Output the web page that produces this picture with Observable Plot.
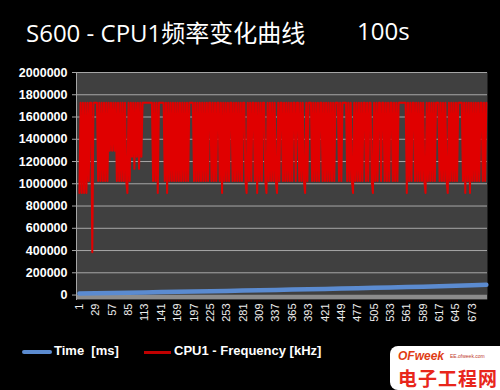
<!DOCTYPE html>
<html>
<head>
<meta charset="utf-8">
<script src="https://cdn.jsdelivr.net/npm/d3@7"></script>
<script src="https://cdn.jsdelivr.net/npm/@observablehq/plot@0.6"></script>
<style>
  html, body { margin: 0; padding: 0; background: #000; }
  #wrap { position: relative; width: 500px; height: 390px; background: #000; overflow: hidden; }
  .title { position: absolute; top: 14px; color: #fff; font-family: "Open Sans", "Noto Sans CJK SC", sans-serif; font-size: 24px; white-space: nowrap; }
  #chart { position: absolute; left: 0; top: 60px; }
  .leg { position: absolute; top: 343px; color: #fff; font-family: "Liberation Sans", Arial, sans-serif; font-weight: bold; font-size: 13px; white-space: pre; }
  .sw { position: absolute; }
  #wm { position: absolute; left: 390px; top: 346px; width: 110px; height: 44px; background: #fff; border-top-left-radius: 8px; border-bottom-left-radius: 8px; }
</style>
</head>
<body>
<div id="wrap">
  <div class="title" style="left:26px">S600 - CPU1频率变化曲线</div>
  <div class="title" style="left:357px">100s</div>
  <div id="chart"></div>
  <div class="sw" style="left:22px; top:350px; width:30px; height:4px; background:#5b8bd0; border-radius:2px"></div>
  <div class="leg" style="left:54px">Time  [ms]</div>
  <div class="sw" style="left:144px; top:351px; width:27px; height:3px; background:#c00000"></div>
  <div class="leg" style="left:174px">CPU1 - Frequency [kHz]</div>
  <div id="wm">
    <div style="position:absolute; left:8px; top:3px; color:#e03c14; font:italic bold 12px 'Liberation Sans', Arial, sans-serif;">OFweek</div>
    <div style="position:absolute; left:60px; top:7px; color:#c0392b; font:5px 'Liberation Sans', Arial, sans-serif;">EE.ofweek.com</div>
    <div style="position:absolute; left:8px; top:18px; color:#e8261c; font:bold 19px 'Noto Sans CJK SC', sans-serif; letter-spacing:1px;">电子工程网</div>
  </div>
</div>
<script>
// Category tick labels (sample numbers)
const xTickLabels = [1,29,57,85,113,141,169,197,225,253,281,309,337,365,393,421,449,477,505,533,561,589,617,645,673];
// Y axis ticks
const yTicks = [0,200000,400000,600000,800000,1000000,1200000,1400000,1600000,1800000,2000000];

// Time [ms] series read at sample positions
const timeSamples = [1,29,57,85,113,141,169,197,225,253,281,309,337,365,393,421,449,477,505,533,561,589,617,645,673,697];
const timeMs = [14000,16000,18500,21000,24000,26500,29000,32000,34500,37000,40000,43000,46000,49000,52000,55000,58500,62000,65000,68500,72000,75500,79000,83000,87000,92000];

// CPU1 frequency [kHz], one reading every second sample starting at sample 1
const freqSampleStep = 2;
const cpu1Freq = [
918000,1728000,918000,1728000,918000,1728000,918000,1728000,1026000,1728000,
1728000,384000,1728000,1728000,1728000,1728000,1026000,1728000,1026000,1728000,
1026000,1728000,1026000,1728000,1026000,1728000,1296000,1728000,1296000,1728000,
1296000,1728000,1026000,1728000,1026000,1728000,1026000,1728000,1026000,1728000,
1026000,918000,1728000,1026000,1728000,1242000,1728000,1134000,1728000,1242000,
1728000,1134000,1728000,1242000,1728000,1728000,1728000,1728000,1728000,1728000,
1728000,1728000,1728000,1026000,1728000,1026000,1728000,918000,1728000,1728000,
1728000,1728000,1728000,1026000,1728000,918000,1728000,1026000,1728000,1026000,
1728000,1026000,1728000,1026000,1728000,1026000,1728000,1026000,1728000,1026000,
1728000,1026000,1728000,1026000,1728000,1728000,1728000,1728000,1026000,1728000,
1026000,1728000,1026000,1728000,1026000,1728000,1026000,1728000,1026000,1728000,
1026000,1728000,1728000,1026000,1728000,1026000,1728000,1026000,1728000,1728000,
1026000,1728000,918000,1728000,1026000,1728000,1026000,1728000,1026000,1728000,
1728000,1026000,1728000,1026000,1728000,1026000,1728000,1026000,1728000,1026000,
1728000,1728000,1026000,918000,1728000,1026000,1728000,1026000,1728000,1728000,
1026000,1728000,918000,1728000,1026000,1728000,1026000,1728000,1728000,1026000,
918000,1728000,1026000,1728000,1026000,1728000,1026000,1728000,1026000,918000,
1728000,1026000,1728000,1728000,1026000,1728000,1026000,1728000,1026000,1728000,
1026000,1728000,1026000,1728000,1728000,1026000,1728000,1728000,1026000,1728000,
1026000,1728000,1026000,918000,1728000,1026000,1728000,1728000,1728000,1026000,
1728000,1026000,1728000,1026000,1728000,1026000,1728000,1728000,1026000,1728000,
1026000,1728000,1026000,1728000,1026000,1728000,1026000,1728000,1026000,1728000,
1728000,1728000,1026000,1728000,1026000,1728000,1728000,1728000,1728000,1026000,
1728000,1026000,1728000,1026000,918000,1728000,1026000,1728000,1026000,1728000,
1026000,1728000,1026000,1728000,1728000,1026000,1728000,1026000,1728000,1728000,
1026000,918000,1728000,1026000,1728000,1026000,1728000,1728000,1026000,1728000,
1728000,1026000,1728000,1026000,1728000,1026000,1728000,1728000,1026000,1728000,
1026000,1728000,1026000,1728000,1728000,1728000,1728000,1728000,1728000,1728000,
918000,1728000,1026000,1728000,1026000,1728000,1728000,1026000,1728000,1026000,
1728000,1026000,1728000,1026000,1728000,1026000,918000,1728000,1026000,1728000,
1026000,1728000,1026000,1728000,1026000,1728000,1728000,1728000,1026000,1728000,
1026000,1728000,1026000,1728000,1026000,918000,1728000,1026000,1728000,1026000,
1728000,1026000,1728000,1026000,1728000,1728000,1728000,1728000,1026000,1728000,
918000,1728000,1026000,1728000,918000,1728000,1026000,1728000,1026000,1728000,
1026000,1728000,1026000,1728000,1728000,1026000,1728000,1026000,1728000
];

const freqData = cpu1Freq.map((v, i) => ({sample: 1 + i * freqSampleStep, v}));
const timeData = timeSamples.map((s, i) => ({sample: s, v: timeMs[i]}));

const chart = Plot.plot({
  width: 500,
  height: 270,
  marginLeft: 76,
  marginRight: 13,
  marginTop: 12,
  marginBottom: 31,
  style: {background: "#000", color: "#fff", overflow: "visible"},
  x: {type: "linear", domain: [-4, 699], label: null},
  y: {domain: [-40000, 2000000], label: null},
  marks: [
    Plot.frame({fill: "#404040", stroke: null}),
    Plot.ruleY(yTicks.filter(d => d > 0), {stroke: "#a6a6a6", strokeWidth: 1}),
    Plot.ruleY([0], {stroke: "#8c8c8c", strokeWidth: 4.5, dy: 2}),
    Plot.frame({anchor: "left", stroke: "#a6a6a6"}),
    Plot.axisY(yTicks, {
      label: null,
      tickSize: 4, tickPadding: 5, stroke: "#a6a6a6",
      tickFormat: d => String(d),
      fill: "#fff", fontWeight: "bold", fontSize: 12.5,
      fontFamily: "Liberation Sans, Arial, sans-serif"
    }),
    Plot.axisX(xTickLabels, {
      label: null,
      tickRotate: -90, tickSize: 0, tickPadding: 4,
      tickFormat: d => String(d),
      fill: "#eeeeee", fontSize: 11,
      fontFamily: "Liberation Sans, Arial, sans-serif"
    }),
    Plot.line(timeData, {x: "sample", y: "v", stroke: "#5b8bd0", strokeWidth: 4.5}),
    Plot.line(freqData, {x: "sample", y: "v", stroke: "#e00000", strokeWidth: 2})
  ]
});
document.getElementById("chart").appendChild(chart);
</script>
</body>
</html>
